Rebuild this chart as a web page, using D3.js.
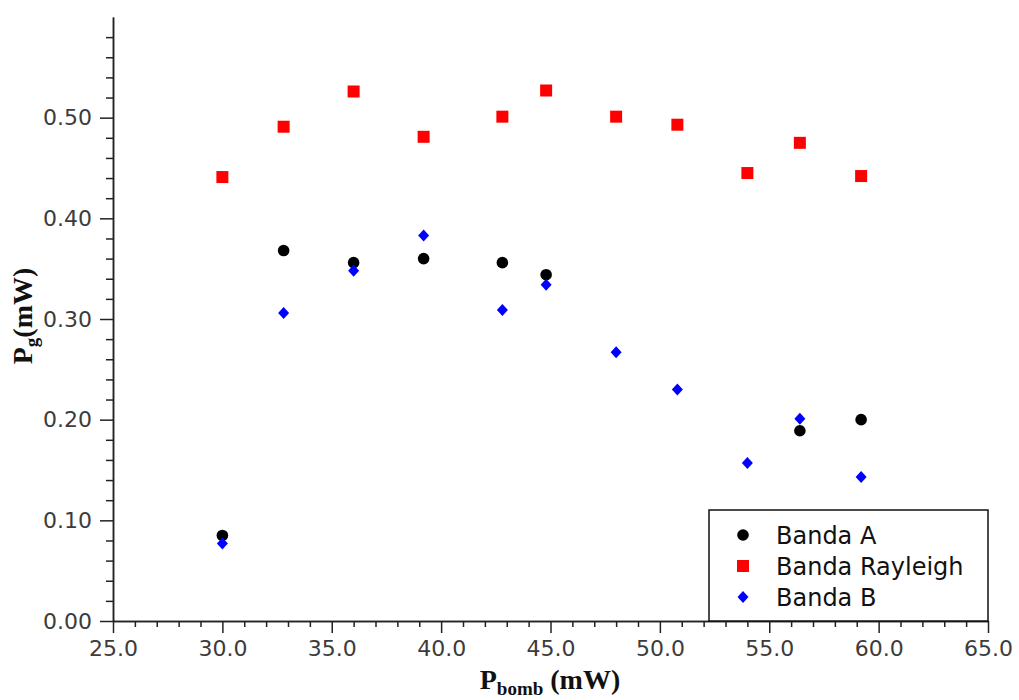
<!DOCTYPE html>
<html>
<head>
<meta charset="utf-8">
<script src="https://cdn.jsdelivr.net/npm/d3@7"></script>
<style>
  body { margin: 0; background: #fff; }
  .tick text { font-family: "DejaVu Sans", sans-serif; font-size: 22px; fill: #3c3c3c; }
  .axis path, .axis line { stroke: #222; stroke-width: 1.5; }
  .title { font-family: "Liberation Serif", serif; font-weight: bold; fill: #111; }
  .legend text { font-family: "DejaVu Sans", sans-serif; font-size: 24px; fill: #111; }
</style>
</head>
<body>
<svg width="1019" height="700"></svg>
<script>
// values
var pumpPower = [30.0, 32.8, 36.0, 39.2, 42.8, 44.8, 48.0, 50.8, 54.0, 56.4, 59.2];
var bandA = [0.085, 0.368, 0.356, 0.360, 0.356, 0.344, null, null, null, 0.189, 0.200];
var bandRayleigh = [0.441, 0.491, 0.526, 0.481, 0.501, 0.527, 0.501, 0.493, 0.445, 0.475, 0.442];
var bandB = [0.077, 0.306, 0.348, 0.383, 0.309, 0.334, 0.267, 0.230, 0.157, 0.201, 0.143];
var xTicks = [25, 30, 35, 40, 45, 50, 55, 60, 65];
var yTicks = [0, 0.1, 0.2, 0.3, 0.4, 0.5];
var seriesNames = ['Banda A', 'Banda Rayleigh', 'Banda B'];

var svg = d3.select('svg');

var padding = {t: 17, r: 31, b: 79, l: 113};
var svgWidth = +svg.attr('width');
var svgHeight = +svg.attr('height');
var chartWidth = svgWidth - padding.l - padding.r;
var chartHeight = svgHeight - padding.t - padding.b;

var xScale = d3.scaleLinear().domain([25, 65]).range([0, chartWidth]);
var yScale = d3.scaleLinear().domain([0, 0.6]).range([chartHeight, 0]);

var chartG = svg.append('g')
    .attr('transform', 'translate(' + [padding.l, padding.t] + ')');

// minor ticks every 1.0 on x and 0.02 on y
var xMinor = d3.range(25, 65.01, 1).filter(function(d) { return d % 5 !== 0; });
var yMinor = d3.range(0, 0.599, 0.02).filter(function(d) { return Math.round(d * 100) % 10 !== 0; });

chartG.append('g')
    .attr('class', 'axis')
    .attr('transform', 'translate(0,' + chartHeight + ')')
    .call(d3.axisBottom(xScale).tickValues(xMinor).tickSize(6).tickFormat('').tickSizeOuter(0));
chartG.append('g')
    .attr('class', 'axis')
    .attr('transform', 'translate(0,' + chartHeight + ')')
    .call(d3.axisBottom(xScale).tickValues(xTicks).tickSize(12).tickPadding(7).tickSizeOuter(0)
        .tickFormat(d3.format('.1f')));

chartG.append('g')
    .attr('class', 'axis')
    .call(d3.axisLeft(yScale).tickValues(yMinor).tickSize(7).tickFormat('').tickSizeOuter(0));
chartG.append('g')
    .attr('class', 'axis')
    .call(d3.axisLeft(yScale).tickValues(yTicks).tickSize(13).tickPadding(8).tickSizeOuter(0)
        .tickFormat(d3.format('.2f')));

chartG.selectAll('.tick text').attr('stroke', 'none');

// points
function pts(values) {
    return pumpPower.map(function(x, i) { return {x: x, y: values[i]}; })
        .filter(function(d) { return d.y !== null; });
}

chartG.selectAll('.ray')
    .data(pts(bandRayleigh))
    .enter().append('path')
    .attr('class', 'ray')
    .attr('d', d3.symbol().type(d3.symbolSquare).size(144))
    .attr('transform', function(d) { return 'translate(' + [xScale(d.x), yScale(d.y)] + ')'; })
    .attr('fill', '#ff0000');

chartG.selectAll('.bandA')
    .data(pts(bandA))
    .enter().append('circle')
    .attr('class', 'bandA')
    .attr('cx', function(d) { return xScale(d.x); })
    .attr('cy', function(d) { return yScale(d.y); })
    .attr('r', 5.8)
    .attr('fill', '#000');

chartG.selectAll('.bandB')
    .data(pts(bandB))
    .enter().append('path')
    .attr('class', 'bandB')
    .attr('d', 'M0,-6L5.5,0L0,6L-5.5,0Z')
    .attr('transform', function(d) { return 'translate(' + [xScale(d.x), yScale(d.y)] + ')'; })
    .attr('fill', '#0000ff');

// legend
var legend = chartG.append('g')
    .attr('class', 'legend')
    .attr('transform', 'translate(' + [chartWidth - 279, chartHeight - 111] + ')');
legend.append('rect')
    .attr('width', 279)
    .attr('height', 111)
    .attr('fill', '#fff')
    .attr('stroke', '#111')
    .attr('stroke-width', 1.5);

var rowY = [25, 56, 87];
legend.append('circle').attr('cx', 34).attr('cy', rowY[0]).attr('r', 5.8).attr('fill', '#000');
legend.append('rect').attr('x', 28).attr('y', rowY[1] - 6).attr('width', 12).attr('height', 12).attr('fill', '#ff0000');
legend.append('path').attr('d', 'M0,-6L5.5,0L0,6L-5.5,0Z')
    .attr('transform', 'translate(' + [34, rowY[2]] + ')').attr('fill', '#0000ff');

legend.selectAll('text.lab')
    .data(seriesNames)
    .enter().append('text')
    .attr('class', 'lab')
    .attr('x', 67)
    .attr('y', function(d, i) { return rowY[i]; })
    .attr('dy', '0.36em')
    .text(function(d) { return d; });

// axis titles
var xt = svg.append('text')
    .attr('class', 'title')
    .attr('x', 550)
    .attr('y', 689)
    .attr('text-anchor', 'middle')
    .attr('font-size', 28);
xt.append('tspan').text('P');
xt.append('tspan').attr('font-size', 19).attr('dy', 6).text('bomb');
xt.append('tspan').attr('dy', -6).text(' (mW)');

var yt = svg.append('text')
    .attr('class', 'title')
    .attr('transform', 'translate(32,316) rotate(-90)')
    .attr('text-anchor', 'middle')
    .attr('font-size', 28);
yt.append('tspan').text('P');
yt.append('tspan').attr('font-size', 19).attr('dy', 6).text('g');
yt.append('tspan').attr('dy', -6).text('(mW)');
</script>
</body>
</html>
